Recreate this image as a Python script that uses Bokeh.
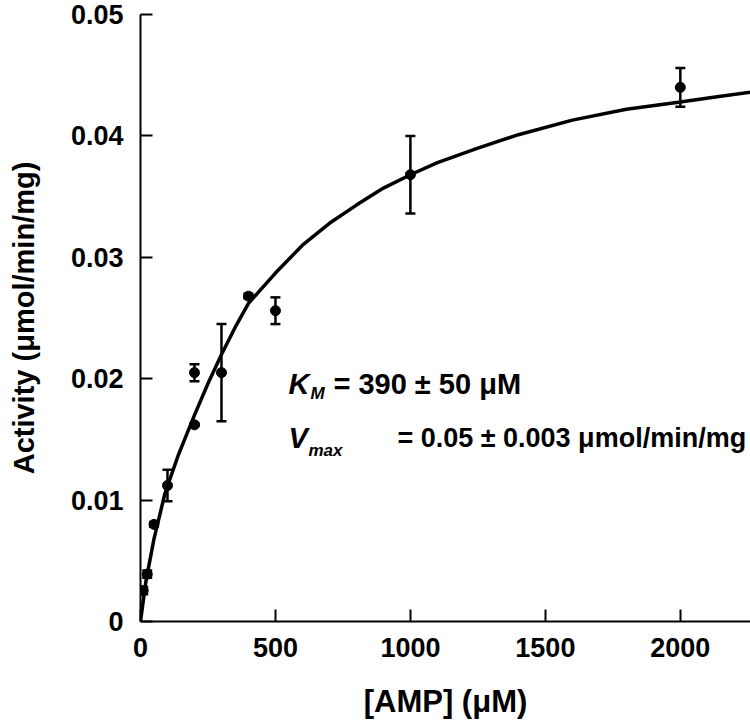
from bokeh.plotting import figure
from bokeh.models import Whisker, TeeHead, ColumnDataSource, FixedTicker, Label, Range1d
from bokeh.embed import file_html
from bokeh.resources import INLINE

# measured data
amp_uM = [10, 25, 50, 100, 200, 200, 300, 400, 500, 1000, 2000]
activity = [0.00255, 0.0039, 0.0080, 0.0112, 0.0162, 0.0205, 0.0205, 0.0268, 0.0256, 0.0368, 0.0440]
activity_err = [0.0003, 0.0003, 0.0002, 0.0013, 0.0001, 0.0007, 0.0040, 0.0002, 0.0011, 0.0032, 0.0016]

# fitted curve
fit_x = [0, 20, 50, 90, 140, 200, 250, 300, 350, 400, 500, 600, 700, 800, 900, 1000,
         1100, 1250, 1400, 1600, 1800, 2000, 2130, 2260]
fit_y = [0, 0.0033, 0.0068, 0.0105, 0.0137, 0.0170, 0.0196, 0.0220, 0.0242, 0.0262, 0.0287,
         0.0310, 0.0328, 0.0343, 0.0357, 0.0368, 0.0378, 0.0390, 0.0401, 0.0413, 0.0422,
         0.0428, 0.0432, 0.0436]

x_ticks = [0, 500, 1000, 1500, 2000]
y_ticks = [0, 0.01, 0.02, 0.03, 0.04, 0.05]
y_tick_labels = ["0", "0.01", "0.02", "0.03", "0.04", "0.05"]

km_text = "= 390 ± 50 μM"
vmax_text = "= 0.05 ± 0.003 μmol/min/mg"

FONT = "Liberation Sans"

src = ColumnDataSource(dict(
    x=amp_uM, y=activity,
    upper=[a + e for a, e in zip(activity, activity_err)],
    lower=[a - e for a, e in zip(activity, activity_err)],
))

p = figure(width=750, height=722, output_backend="svg", toolbar_location=None,
           x_range=Range1d(0, 2260), y_range=Range1d(0, 0.05),
           min_border_left=140, min_border_right=0, min_border_top=14, min_border_bottom=101)
p.outline_line_color = None
p.grid.visible = False
p.background_fill_color = "white"

p.xaxis.ticker = FixedTicker(ticks=x_ticks)
p.yaxis.ticker = FixedTicker(ticks=y_ticks)
p.yaxis.major_label_overrides = {t: l for t, l in zip(y_ticks, y_tick_labels)}

for ax in (p.xaxis[0], p.yaxis[0]):
    ax.axis_line_width = 2
    ax.axis_line_color = "black"
    ax.major_tick_line_width = 2
    ax.major_tick_line_color = "black"
    ax.major_tick_in = 12
    ax.major_tick_out = 0
    ax.minor_tick_line_color = None
    ax.major_label_text_font = FONT
    ax.major_label_text_font_style = "bold"
    ax.major_label_text_font_size = "27px"
    ax.major_label_text_color = "black"
    ax.axis_label_text_font = FONT
    ax.axis_label_text_font_style = "bold"
    ax.axis_label_text_color = "black"

p.xaxis.axis_label_text_font_size = "31px"
p.yaxis.axis_label_text_font_size = "29px"
p.xaxis.axis_label = "[AMP] (μM)"
p.yaxis.axis_label = "Activity (μmol/min/mg)"
p.xaxis.major_label_standoff = 16
p.yaxis.major_label_standoff = 17
p.xaxis.axis_label_standoff = 24
p.yaxis.axis_label_standoff = 28

p.line(fit_x, fit_y, line_width=3.5, line_color="black")

p.add_layout(Whisker(source=src, base="x", upper="upper", lower="lower",
                     line_width=2.5, line_color="black",
                     upper_head=TeeHead(size=10, line_width=2.5, line_color="black"),
                     lower_head=TeeHead(size=10, line_width=2.5, line_color="black")))
p.scatter("x", "y", source=src, size=10, fill_color="black", line_color="black")

kx, ky = 548, 0.0196
vx, vy = 548, 0.0151
common = dict(text_font=FONT, text_color="black", text_baseline="alphabetic", text_align="left")
p.add_layout(Label(x=kx, y=ky, text="K", text_font_size="29px", text_font_style="bold italic", **common))
p.add_layout(Label(x=kx, y=ky, x_offset=22, y_offset=-10, text="M", text_font_size="17px",
                   text_font_style="bold italic", **common))
p.add_layout(Label(x=kx, y=ky, x_offset=45, text=km_text, text_font_size="29px",
                   text_font_style="bold", **common))
p.add_layout(Label(x=vx, y=vy, text="V", text_font_size="29px", text_font_style="bold italic", **common))
p.add_layout(Label(x=vx, y=vy, x_offset=20, y_offset=-12, text="max", text_font_size="17px",
                   text_font_style="bold italic", **common))
p.add_layout(Label(x=vx, y=vy, x_offset=109, text=vmax_text, text_font_size="27px",
                   text_font_style="bold", **common))

open("out.html", "w").write(file_html(p, INLINE))
